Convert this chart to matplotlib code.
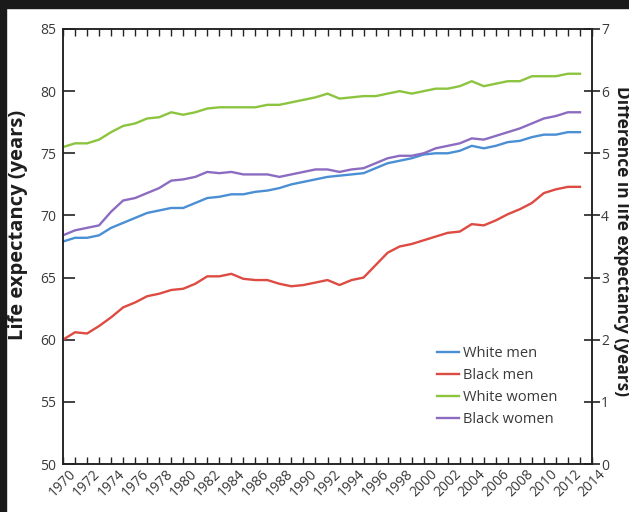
import numpy as np
import matplotlib
matplotlib.use('Agg')
import matplotlib.pyplot as plt
from matplotlib.patches import Rectangle

plt.rcParams['font.family'] = ['Open Sans', 'DejaVu Sans']

# Life expectancy at birth
years = list(range(1970, 2014))
white_men = [67.9, 68.2, 68.2, 68.4, 69.0, 69.4, 69.8, 70.2, 70.4, 70.6,
             70.6, 71.0, 71.4, 71.5, 71.7, 71.7, 71.9, 72.0, 72.2, 72.5,
             72.7, 72.9, 73.1, 73.2, 73.3, 73.4, 73.8, 74.2, 74.4, 74.6,
             74.9, 75.0, 75.0, 75.2, 75.6, 75.4, 75.6, 75.9, 76.0, 76.3,
             76.5, 76.5, 76.7, 76.7]
black_men = [60.0, 60.6, 60.5, 61.1, 61.8, 62.6, 63.0, 63.5, 63.7, 64.0,
             64.1, 64.5, 65.1, 65.1, 65.3, 64.9, 64.8, 64.8, 64.5, 64.3,
             64.4, 64.6, 64.8, 64.4, 64.8, 65.0, 66.0, 67.0, 67.5, 67.7,
             68.0, 68.3, 68.6, 68.7, 69.3, 69.2, 69.6, 70.1, 70.5, 71.0,
             71.8, 72.1, 72.3, 72.3]
white_women = [75.5, 75.8, 75.8, 76.1, 76.7, 77.2, 77.4, 77.8, 77.9, 78.3,
               78.1, 78.3, 78.6, 78.7, 78.7, 78.7, 78.7, 78.9, 78.9, 79.1,
               79.3, 79.5, 79.8, 79.4, 79.5, 79.6, 79.6, 79.8, 80.0, 79.8,
               80.0, 80.2, 80.2, 80.4, 80.8, 80.4, 80.6, 80.8, 80.8, 81.2,
               81.2, 81.2, 81.4, 81.4]
black_women = [68.4, 68.8, 69.0, 69.2, 70.3, 71.2, 71.4, 71.8, 72.2, 72.8,
               72.9, 73.1, 73.5, 73.4, 73.5, 73.3, 73.3, 73.3, 73.1, 73.3,
               73.5, 73.7, 73.7, 73.5, 73.7, 73.8, 74.2, 74.6, 74.8, 74.8,
               75.0, 75.4, 75.6, 75.8, 76.2, 76.1, 76.4, 76.7, 77.0, 77.4,
               77.8, 78.0, 78.3, 78.3]

series = [('White men', white_men, '#4a8fd4'),
          ('Black men', black_men, '#dd4b42'),
          ('White women', white_women, '#8cc43f'),
          ('Black women', black_women, '#8c6cc0')]

W, H = 629, 512
fig = plt.figure(figsize=(W / 100, H / 100), dpi=100)
ax = fig.add_axes([63 / W, 1 - 464 / H, (592 - 63) / W, (464 - 29) / H])

txt = '#3a3a3a'
for name, vals, col in series:
    ax.plot(years, vals, color=col, lw=1.7, label=name)

ax.set_xlim(1970, 2014)
ax.set_ylim(50, 85)
ax.set_yticks(range(50, 86, 5))
ax.set_xticks(range(1970, 2015, 2))
ax.set_xticks(range(1970, 2015), minor=True)
ax.set_xticklabels([str(y) for y in range(1970, 2015, 2)], rotation=45,
                   ha='center', color=txt, fontsize=10)
ax.tick_params(axis='x', which='both', direction='in', length=5, width=1,
               top=True, bottom=True, pad=2, color='#222222')
ax.tick_params(axis='y', direction='in', length=8.5, width=1.2, pad=5,
               labelsize=10, labelcolor=txt, color='#222222')
for s in ax.spines.values():
    s.set_linewidth(1.1)
    s.set_color('#222222')

ax2 = ax.twinx()
ax2.set_ylim(0, 7)
ax2.set_yticks(range(0, 8))
ax2.tick_params(axis='y', direction='inout', length=11, width=1.2, pad=1,
                labelsize=10, labelcolor=txt, color='#222222')
for s in ax2.spines.values():
    s.set_linewidth(1.1)
    s.set_color('#222222')

leg = ax.legend(loc='upper left', bbox_to_anchor=(437 / W, 1 - 346 / H),
                bbox_transform=fig.transFigure, frameon=False, fontsize=10.5,
                handlelength=1.5, handletextpad=0.3, labelspacing=0.48,
                borderpad=0, borderaxespad=0)
for t in leg.get_texts():
    t.set_color(txt)

fig.text(18 / W, 1 - 225 / H, 'Life expectancy (years)', rotation=90,
         ha='center', va='center', fontsize=14.5, fontweight='bold',
         color='#1e1e1e')
# right label runs off the edge of the page in the original
fig.text(613 / W, 1 - 241 / H, 'Difference in life expectancy (years)',
         rotation=270, ha='left', va='center', fontsize=12.5,
         fontweight='bold', color='#1e1e1e')

# dark scan border at top and left
fig.patches.append(Rectangle((0, 1 - 8 / H), 1, 8 / H, transform=fig.transFigure,
                             color='#1a1a1a', zorder=10))
fig.patches.append(Rectangle((0, 0), 6 / W, 1, transform=fig.transFigure,
                             color='#1a1a1a', zorder=10))

fig.savefig('out.png', dpi=100)
